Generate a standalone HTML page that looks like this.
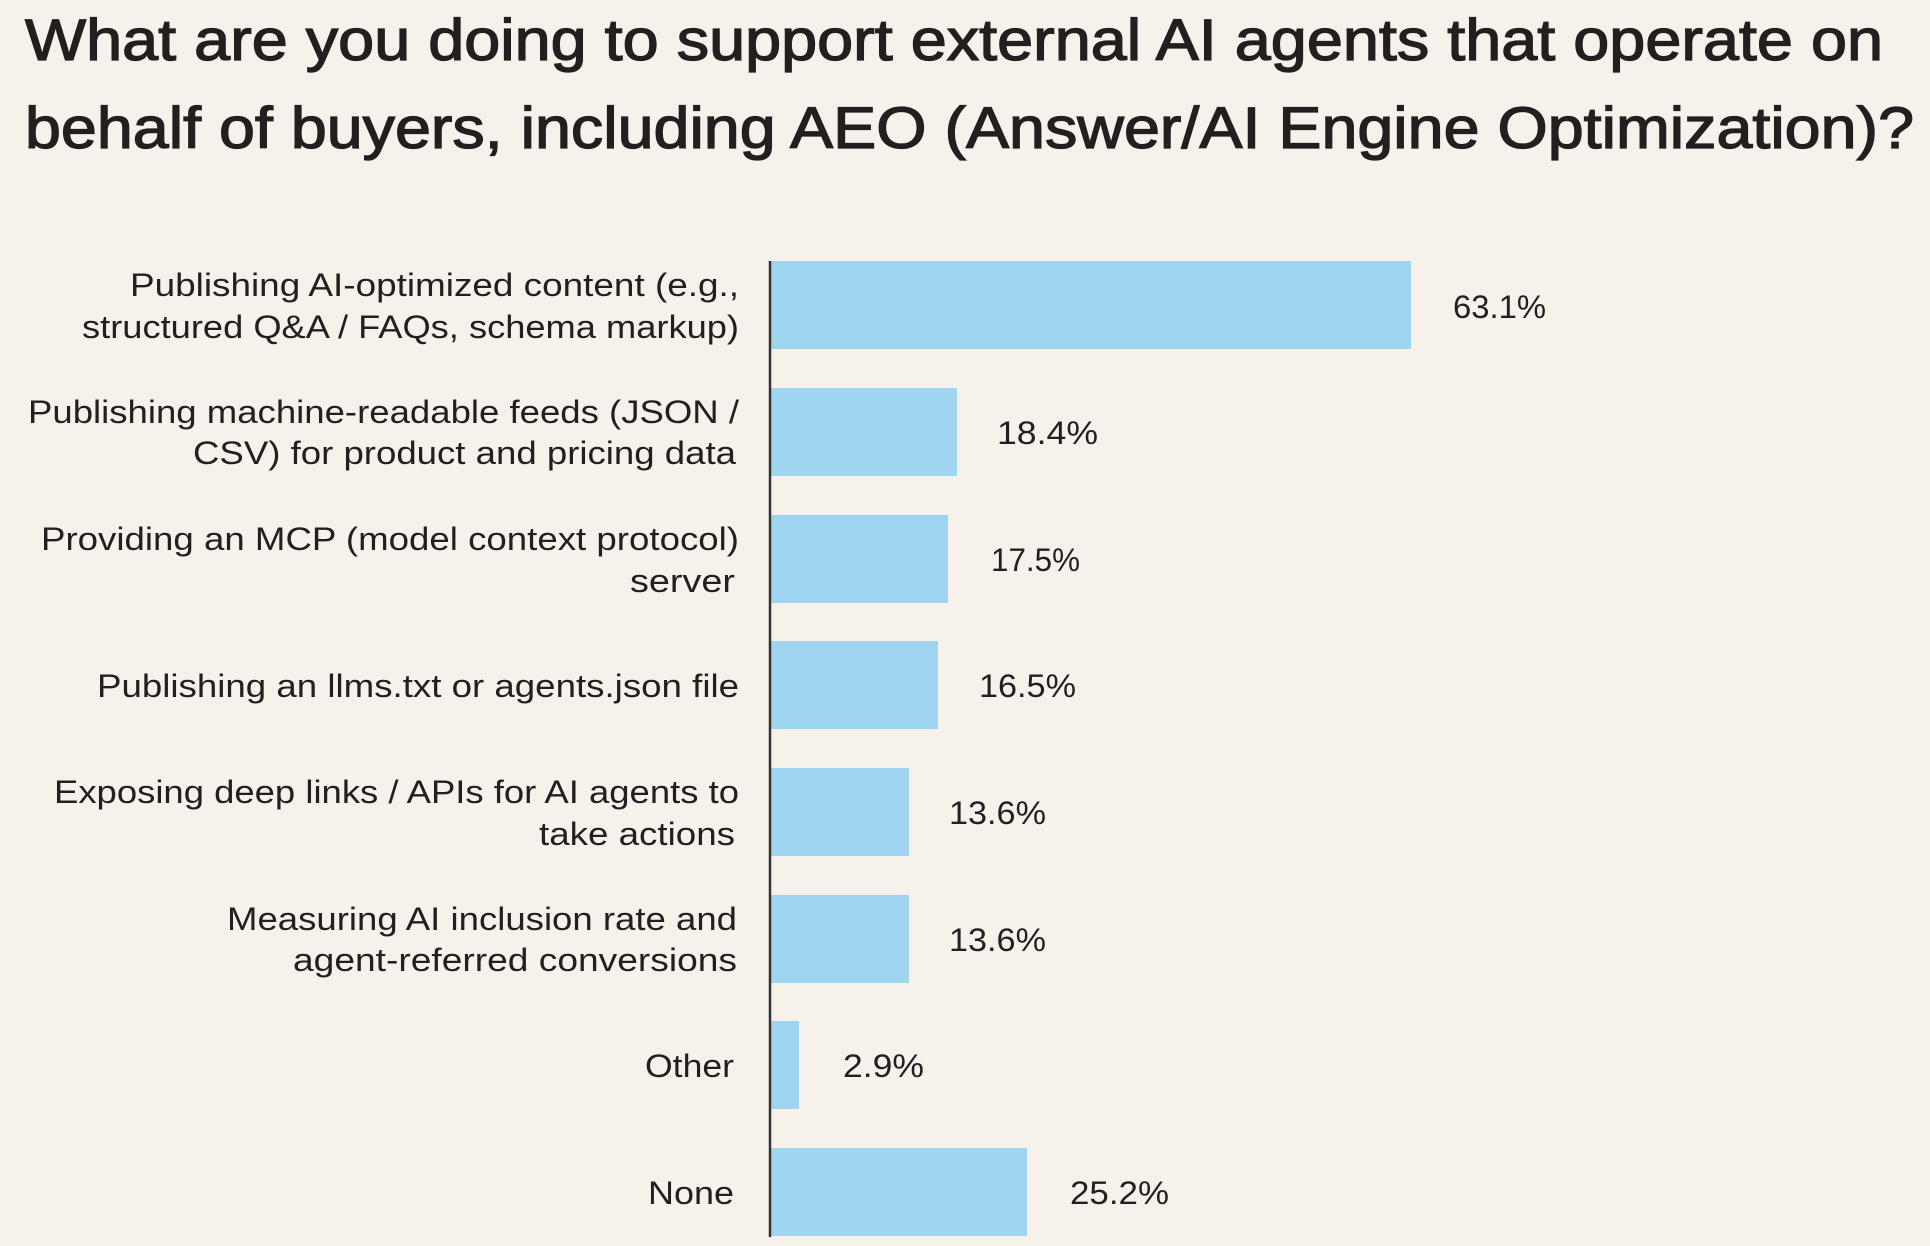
<!DOCTYPE html>
<html><head><meta charset="utf-8"><style>
html,body{margin:0;padding:0;background:#f6f1eb;}
svg{display:block;}
text{font-family:"Liberation Sans",sans-serif;fill:#231f20;}
</style></head><body>
<svg width="1930" height="1246" viewBox="0 0 1930 1246" xmlns="http://www.w3.org/2000/svg">
<rect width="1930" height="1246" fill="#f6f1eb"/>
<g stroke="#231f20" stroke-width="1.3">
<text x="25" y="60" font-size="58" textLength="1858" lengthAdjust="spacingAndGlyphs">What are you doing to support external AI agents that operate on</text>
<text x="25" y="148" font-size="58" textLength="1889" lengthAdjust="spacingAndGlyphs">behalf of buyers, including AEO (Answer/AI Engine Optimization)?</text>
</g>
<g fill="#9fd5ee">
<rect x="771" y="261" width="640" height="88"/>
<rect x="771" y="388" width="186" height="88"/>
<rect x="771" y="515" width="177" height="88"/>
<rect x="771" y="641" width="167" height="88"/>
<rect x="771" y="768" width="138" height="88"/>
<rect x="771" y="895" width="138" height="88"/>
<rect x="771" y="1021" width="28" height="88"/>
<rect x="771" y="1148" width="256" height="88"/>
</g>
<line x1="770" y1="261" x2="770" y2="1237" stroke="#333" stroke-width="2.5"/>
<g font-size="32">
<text x="130" y="296" textLength="609" lengthAdjust="spacingAndGlyphs">Publishing AI-optimized content (e.g.,</text>
<text x="82" y="338" textLength="657" lengthAdjust="spacingAndGlyphs">structured Q&amp;A / FAQs, schema markup)</text>
<text x="28" y="423" textLength="711" lengthAdjust="spacingAndGlyphs">Publishing machine-readable feeds (JSON /</text>
<text x="193" y="464" textLength="543" lengthAdjust="spacingAndGlyphs">CSV) for product and pricing data</text>
<text x="41" y="550" textLength="698" lengthAdjust="spacingAndGlyphs">Providing an MCP (model context protocol)</text>
<text x="630" y="592" textLength="105" lengthAdjust="spacingAndGlyphs">server</text>
<text x="97" y="697" textLength="642" lengthAdjust="spacingAndGlyphs">Publishing an llms.txt or agents.json file</text>
<text x="54" y="803" textLength="685" lengthAdjust="spacingAndGlyphs">Exposing deep links / APIs for AI agents to</text>
<text x="539" y="845" textLength="196" lengthAdjust="spacingAndGlyphs">take actions</text>
<text x="227" y="930" textLength="510" lengthAdjust="spacingAndGlyphs">Measuring AI inclusion rate and</text>
<text x="293" y="971" textLength="444" lengthAdjust="spacingAndGlyphs">agent-referred conversions</text>
<text x="645" y="1077" textLength="89" lengthAdjust="spacingAndGlyphs">Other</text>
<text x="648" y="1204" textLength="86" lengthAdjust="spacingAndGlyphs">None</text>
<text x="1453" y="318" textLength="93" lengthAdjust="spacingAndGlyphs">63.1%</text>
<text x="997" y="444" textLength="101" lengthAdjust="spacingAndGlyphs">18.4%</text>
<text x="991" y="571" textLength="89" lengthAdjust="spacingAndGlyphs">17.5%</text>
<text x="979" y="697" textLength="97" lengthAdjust="spacingAndGlyphs">16.5%</text>
<text x="949" y="824" textLength="97" lengthAdjust="spacingAndGlyphs">13.6%</text>
<text x="949" y="951" textLength="97" lengthAdjust="spacingAndGlyphs">13.6%</text>
<text x="843" y="1077" textLength="81" lengthAdjust="spacingAndGlyphs">2.9%</text>
<text x="1070" y="1204" textLength="99" lengthAdjust="spacingAndGlyphs">25.2%</text>
</g>
</svg>
</body></html>
